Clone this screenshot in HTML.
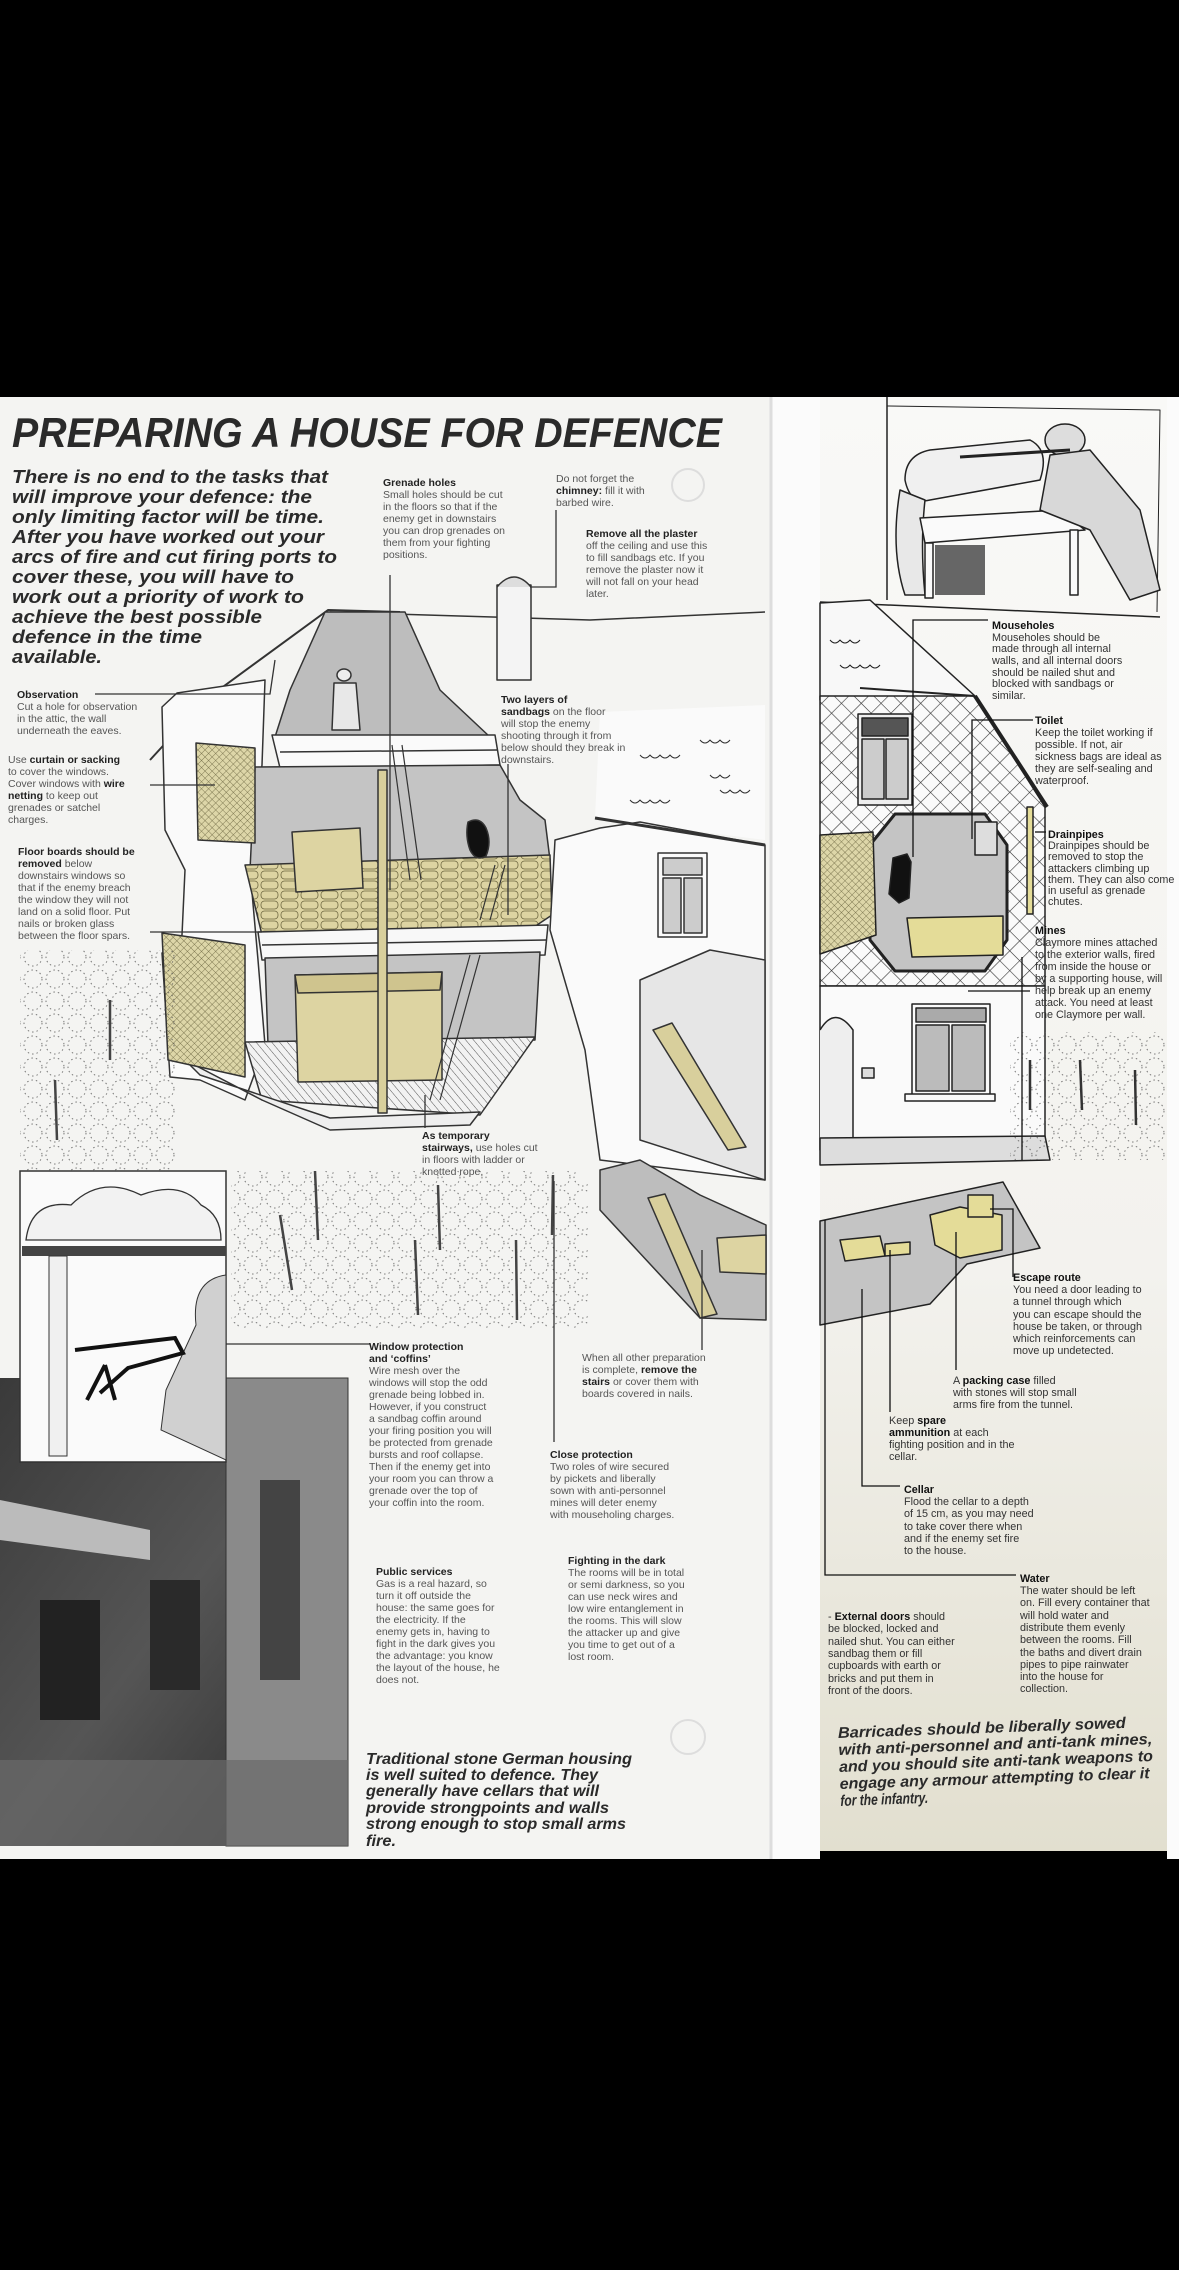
<!DOCTYPE html>
<html><head><meta charset="utf-8">
<style>
html,body{margin:0;padding:0;background:#000;}
svg{display:block;}
.t{font-family:"Liberation Sans",sans-serif;font-size:10.5px;fill:#555;}
.b{font-weight:bold;fill:#222;}
.r{font-family:"Liberation Sans",sans-serif;font-size:10.8px;fill:#333;}
.rb{font-weight:bold;fill:#111;}
.i{font-family:"Liberation Sans",sans-serif;font-weight:bold;font-style:italic;fill:#2a2a2a;}
</style></head>
<body>
<svg width="1179" height="2270" viewBox="0 0 1179 2270" xmlns="http://www.w3.org/2000/svg">
<defs>
<linearGradient id="rg" x1="0" y1="0" x2="0" y2="1">
<stop offset="0" stop-color="#f9f9f7"/><stop offset="0.6" stop-color="#f3f2ee"/><stop offset="1" stop-color="#e2dfcf"/></linearGradient>
<linearGradient id="ph" x1="0" y1="0" x2="1" y2="1">
<stop offset="0" stop-color="#3a3a3a"/><stop offset="0.5" stop-color="#555"/><stop offset="1" stop-color="#2a2a2a"/></linearGradient>
<pattern id="hatch" width="14" height="14" patternUnits="userSpaceOnUse" patternTransform="rotate(45)">
<rect width="14" height="14" fill="#fafafa"/><line x1="0" y1="0" x2="0" y2="14" stroke="#333" stroke-width="1.2"/><line x1="0" y1="0" x2="14" y2="0" stroke="#333" stroke-width="1.2"/></pattern>
<pattern id="mesh" width="5" height="5" patternUnits="userSpaceOnUse" patternTransform="rotate(45)">
<rect width="5" height="5" fill="#ddd6a8"/><line x1="0" y1="0" x2="0" y2="5" stroke="#6b6540" stroke-width="0.8"/><line x1="0" y1="0" x2="5" y2="0" stroke="#6b6540" stroke-width="0.8"/></pattern>
<pattern id="stripe" width="6" height="6" patternUnits="userSpaceOnUse" patternTransform="rotate(-40)">
<rect width="6" height="6" fill="#f2f2f2"/><line x1="0" y1="0" x2="0" y2="6" stroke="#555" stroke-width="1"/></pattern>
<pattern id="bag" width="20" height="10" patternUnits="userSpaceOnUse">
<rect width="20" height="10" fill="#ddd4a2"/><rect x="1" y="1" width="17" height="8" rx="3.5" fill="none" stroke="#6e6740" stroke-width="0.8"/></pattern>
<pattern id="wire" width="22" height="22" patternUnits="userSpaceOnUse">
<circle cx="11" cy="11" r="9" fill="none" stroke="#555" stroke-width="1" stroke-dasharray="1.5 3"/></pattern>
</defs>

<rect width="1179" height="2270" fill="#000"/>
<rect x="0" y="397" width="771" height="1462" fill="#f4f4f2"/>
<rect x="771" y="397" width="49" height="1462" fill="#fbfbfb"/>
<line x1="771" y1="397" x2="771" y2="1859" stroke="#ddd" stroke-width="3"/>
<rect x="820" y="397" width="347" height="1454" fill="url(#rg)"/>
<rect x="1167" y="397" width="12" height="1462" fill="#fbfbfb"/>

<!-- Title -->
<text x="12" y="447" class="i" font-size="42" textLength="710" lengthAdjust="spacingAndGlyphs">PREPARING A HOUSE FOR DEFENCE</text>
<g class="i" font-size="18">
<text x="12" y="483" textLength="316" lengthAdjust="spacingAndGlyphs">There is no end to the tasks that</text>
<text x="12" y="503" textLength="300" lengthAdjust="spacingAndGlyphs">will improve your defence: the</text>
<text x="12" y="523" textLength="312" lengthAdjust="spacingAndGlyphs">only limiting factor will be time.</text>
<text x="12" y="543" textLength="312" lengthAdjust="spacingAndGlyphs">After you have worked out your</text>
<text x="12" y="563" textLength="325" lengthAdjust="spacingAndGlyphs">arcs of fire and cut firing ports to</text>
<text x="12" y="583" textLength="282" lengthAdjust="spacingAndGlyphs">cover these, you will have to</text>
<text x="12" y="603" textLength="292" lengthAdjust="spacingAndGlyphs">work out a priority of work to</text>
<text x="12" y="623" textLength="250" lengthAdjust="spacingAndGlyphs">achieve the best possible</text>
<text x="12" y="643" textLength="190" lengthAdjust="spacingAndGlyphs">defence in the time</text>
<text x="12" y="663" textLength="90" lengthAdjust="spacingAndGlyphs">available.</text>
</g>

<circle cx="688" cy="485" r="16" fill="none" stroke="#ddd" stroke-width="2"/>
<circle cx="688" cy="1737" r="17" fill="none" stroke="#ddd" stroke-width="2"/>

<!-- House drawing left -->
<g stroke="#333" stroke-width="1.5" stroke-linejoin="round">
<polyline points="150,760 205,700 328,610 400,612" fill="none" stroke-width="2"/>
<polyline points="330,612 590,620 765,612" fill="none"/>
<!-- outer left wall -->
<polygon points="162,707 177,693 265,680 262,765 250,870 258,960 265,1045 245,1100 200,1080 170,1077 162,953 182,935 185,870 165,830" fill="#fafafa"/>
<!-- attic gray -->
<polygon points="325,612 405,612 440,690 490,737 275,737 290,690" fill="#bdbdbd"/>
<polygon points="272,735 495,735 500,765 280,768" fill="#fafafa"/>
<line x1="280" y1="752" x2="497" y2="750"/>
<!-- upper room -->
<polygon points="255,767 500,765 520,800 545,820 550,860 250,870" fill="#c4c4c4"/>
<polygon points="245,865 550,855 552,915 525,933 262,935" fill="url(#bag)"/>
<polygon points="258,932 548,925 545,955 262,960" fill="#f8f8f8"/>
<line x1="262" y1="945" x2="546" y2="940"/>
<!-- lower room -->
<polygon points="265,958 540,952 535,1040 268,1045" fill="#c4c4c4"/>
<polygon points="245,1042 535,1037 480,1115 262,1100" fill="url(#stripe)"/>
<polygon points="185,1060 262,1100 330,1130 470,1125 480,1112 330,1118 200,1075" fill="#eee"/>
<polygon points="292,832 360,828 363,888 296,892" fill="#ddd4a2"/>
<polygon points="295,975 442,972 442,1080 298,1082" fill="#ddd4a2"/>
<polygon points="295,975 442,972 440,990 298,993" fill="#cfc48e"/>
<polygon points="196,743 255,748 255,843 198,840" fill="url(#mesh)"/>
<polygon points="162,933 245,945 245,1077 168,1060" fill="url(#mesh)"/>
<rect x="378" y="770" width="9" height="343" fill="#d8cf9c"/>
<g fill="none" stroke-width="1.2">
<line x1="392" y1="745" x2="410" y2="880"/><line x1="402" y1="745" x2="421" y2="880"/>
<line x1="470" y1="955" x2="430" y2="1100"/><line x1="480" y1="955" x2="440" y2="1100"/>
<line x1="480" y1="920" x2="495" y2="865"/><line x1="490" y1="920" x2="505" y2="865"/>
</g>
<ellipse cx="344" cy="675" rx="7" ry="6" fill="#eee"/>
<polygon points="334,683 356,683 360,730 332,730" fill="#e8e8e8"/>
<path d="M468,822 q12,-6 18,6 q6,14 0,28 q-10,6 -16,-6 q-5,-14 -2,-28z" fill="#111"/>
<!-- right house -->
<polygon points="600,712 765,705 765,840 595,818" fill="#fafafa" stroke="none"/>
<polygon points="555,840 600,828 640,822 765,845 765,1180 600,1160 585,1050 550,930" fill="#fafafa"/>
<line x1="595" y1="818" x2="765" y2="845" stroke-width="3"/>
<rect x="658" y="853" width="49" height="84" fill="#fafafa"/>
<rect x="663" y="858" width="39" height="17" fill="#ccc"/>
<rect x="663" y="878" width="18" height="55" fill="#ccc"/>
<rect x="684" y="878" width="18" height="55" fill="#ccc"/>
<polygon points="640,980 710,950 765,960 765,1180 640,1140" fill="#e6e6e6"/>
<polygon points="653,1030 672,1023 746,1147 728,1150" fill="#d8cf9c"/>
<g fill="none" stroke-width="1">
<path d="M640,755 q5,6 10,0 q5,6 10,0 q5,6 10,0 q5,6 10,0"/>
<path d="M700,740 q5,6 10,0 q5,6 10,0 q5,6 10,0"/>
<path d="M630,800 q5,6 10,0 q5,6 10,0 q5,6 10,0 q5,6 10,0"/>
<path d="M720,790 q5,6 10,0 q5,6 10,0 q5,6 10,0"/>
<path d="M710,775 q5,6 10,0 q5,6 10,0"/>
</g>
<rect x="497" y="585" width="34" height="95" fill="#f4f4f4"/>
<path d="M497,587 q17,-20 34,0" fill="#ddd"/>
<!-- cellar stairs -->
<polygon points="600,1170 640,1160 700,1195 766,1225 766,1320 700,1318 600,1210" fill="#bdbdbd"/>
<polygon points="648,1198 665,1194 717,1314 700,1318" fill="#d8cf9c"/>
<polygon points="717,1238 766,1235 766,1274 720,1272" fill="#ddd4a2"/>
</g>
<rect x="20" y="950" width="157" height="230" fill="url(#wire)" opacity="0.8"/>
<rect x="231" y="1171" width="358" height="157" fill="url(#wire)" opacity="0.8"/>
<g stroke="#444" stroke-width="2.5">
<line x1="315" y1="1171" x2="318" y2="1240"/><line x1="280" y1="1215" x2="292" y2="1290"/>
<line x1="438" y1="1185" x2="440" y2="1250"/><line x1="415" y1="1240" x2="418" y2="1315"/>
<line x1="553" y1="1175" x2="552" y2="1235"/><line x1="516" y1="1240" x2="517" y2="1320"/>
<line x1="55" y1="1080" x2="57" y2="1140"/><line x1="110" y1="1000" x2="110" y2="1060"/>
</g>

<!-- leader lines left -->
<g stroke="#333" stroke-width="1.3" fill="none">
<polyline points="95,694 270,694 275,660"/>
<line x1="150" y1="785" x2="215" y2="785"/>
<line x1="150" y1="932" x2="262" y2="932"/>
<line x1="390" y1="575" x2="390" y2="890"/>
<polyline points="556,510 556,587 530,587"/>
<line x1="508" y1="764" x2="508" y2="915"/>
<line x1="425" y1="1128" x2="425" y2="1095"/>
<line x1="226" y1="1344" x2="370" y2="1344"/>
<line x1="554" y1="1442" x2="554" y2="1181"/>
<line x1="702" y1="1350" x2="702" y2="1250"/>
</g>

<g class="t">
<text x="383" y="486" class="b">Grenade holes</text>
<text x="383" y="498">Small holes should be cut</text>
<text x="383" y="510">in the floors so that if the</text>
<text x="383" y="522">enemy get in downstairs</text>
<text x="383" y="534">you can drop grenades on</text>
<text x="383" y="546">them from your fighting</text>
<text x="383" y="558">positions.</text>

<text x="556" y="482">Do not forget the</text>
<text x="556" y="494"><tspan class="b">chimney:</tspan> fill it with</text>
<text x="556" y="506">barbed wire.</text>

<text x="586" y="537" class="b">Remove all the plaster</text>
<text x="586" y="549">off the ceiling and use this</text>
<text x="586" y="561">to fill sandbags etc. If you</text>
<text x="586" y="573">remove the plaster now it</text>
<text x="586" y="585">will not fall on your head</text>
<text x="586" y="597">later.</text>

<text x="17" y="698" class="b">Observation</text>
<text x="17" y="710">Cut a hole for observation</text>
<text x="17" y="722">in the attic, the wall</text>
<text x="17" y="734">underneath the eaves.</text>

<text x="8" y="763">Use <tspan class="b">curtain or sacking</tspan></text>
<text x="8" y="775">to cover the windows.</text>
<text x="8" y="787">Cover windows with <tspan class="b">wire</tspan></text>
<text x="8" y="799"><tspan class="b">netting</tspan> to keep out</text>
<text x="8" y="811">grenades or satchel</text>
<text x="8" y="823">charges.</text>

<text x="18" y="855" class="b">Floor boards should be</text>
<text x="18" y="867"><tspan class="b">removed</tspan> below</text>
<text x="18" y="879">downstairs windows so</text>
<text x="18" y="891">that if the enemy breach</text>
<text x="18" y="903">the window they will not</text>
<text x="18" y="915">land on a solid floor. Put</text>
<text x="18" y="927">nails or broken glass</text>
<text x="18" y="939">between the floor spars.</text>

<text x="501" y="703" class="b">Two layers of</text>
<text x="501" y="715"><tspan class="b">sandbags</tspan> on the floor</text>
<text x="501" y="727">will stop the enemy</text>
<text x="501" y="739">shooting through it from</text>
<text x="501" y="751">below should they break in</text>
<text x="501" y="763">downstairs.</text>

<text x="422" y="1139" class="b">As temporary</text>
<text x="422" y="1151"><tspan class="b">stairways,</tspan> use holes cut</text>
<text x="422" y="1163">in floors with ladder or</text>
<text x="422" y="1175">knotted rope.</text>

<text x="369" y="1350" class="b">Window protection</text>
<text x="369" y="1362" class="b">and ‘coffins’</text>
<text x="369" y="1374">Wire mesh over the</text>
<text x="369" y="1386">windows will stop the odd</text>
<text x="369" y="1398">grenade being lobbed in.</text>
<text x="369" y="1410">However, if you construct</text>
<text x="369" y="1422">a sandbag coffin around</text>
<text x="369" y="1434">your firing position you will</text>
<text x="369" y="1446">be protected from grenade</text>
<text x="369" y="1458">bursts and roof collapse.</text>
<text x="369" y="1470">Then if the enemy get into</text>
<text x="369" y="1482">your room you can throw a</text>
<text x="369" y="1494">grenade over the top of</text>
<text x="369" y="1506">your coffin into the room.</text>

<text x="582" y="1361">When all other preparation</text>
<text x="582" y="1373">is complete, <tspan class="b">remove the</tspan></text>
<text x="582" y="1385"><tspan class="b">stairs</tspan> or cover them with</text>
<text x="582" y="1397">boards covered in nails.</text>

<text x="550" y="1458" class="b">Close protection</text>
<text x="550" y="1470">Two roles of wire secured</text>
<text x="550" y="1482">by pickets and liberally</text>
<text x="550" y="1494">sown with anti-personnel</text>
<text x="550" y="1506">mines will deter enemy</text>
<text x="550" y="1518">with mouseholing charges.</text>

<text x="376" y="1575" class="b">Public services</text>
<text x="376" y="1587">Gas is a real hazard, so</text>
<text x="376" y="1599">turn it off outside the</text>
<text x="376" y="1611">house: the same goes for</text>
<text x="376" y="1623">the electricity. If the</text>
<text x="376" y="1635">enemy gets in, having to</text>
<text x="376" y="1647">fight in the dark gives you</text>
<text x="376" y="1659">the advantage: you know</text>
<text x="376" y="1671">the layout of the house, he</text>
<text x="376" y="1683">does not.</text>

<text x="568" y="1564" class="b">Fighting in the dark</text>
<text x="568" y="1576">The rooms will be in total</text>
<text x="568" y="1588">or semi darkness, so you</text>
<text x="568" y="1600">can use neck wires and</text>
<text x="568" y="1612">low wire entanglement in</text>
<text x="568" y="1624">the rooms. This will slow</text>
<text x="568" y="1636">the attacker up and give</text>
<text x="568" y="1648">you time to get out of a</text>
<text x="568" y="1660">lost room.</text>
</g>

<!-- photo -->
<rect x="0" y="1378" width="348" height="468" fill="url(#ph)"/>
<rect x="226" y="1378" width="122" height="468" fill="#8a8a8a" stroke="#333"/>
<polygon points="0,1500 150,1530 150,1560 0,1540" fill="#bbb"/>
<rect x="40" y="1600" width="60" height="120" fill="#222"/>
<rect x="150" y="1580" width="50" height="110" fill="#2a2a2a"/>
<rect x="260" y="1480" width="40" height="200" fill="#444"/>
<rect x="0" y="1760" width="348" height="86" fill="#6a6a6a" opacity="0.7"/>
<!-- inset box -->
<rect x="20" y="1171" width="206" height="291" fill="#fafafa" stroke="#333" stroke-width="1.5"/>
<path d="M26,1240 q5,-40 45,-35 q30,-30 70,-10 q40,-15 60,10 q20,10 20,35z" fill="#f2f2f2" stroke="#333" stroke-width="1.3"/>
<rect x="22" y="1246" width="204" height="10" fill="#444"/>
<rect x="49" y="1256" width="18" height="200" fill="#f0f0f0" stroke="#333"/>
<path d="M226,1275 q-35,5 -30,50 l-30,65 l-5,40 l65,30z" fill="#d0d0d0" stroke="#333"/>
<path d="M75,1350 l100,-12 l8,15 l-55,15 l-28,25 M105,1365 l-18,35 M105,1365 l10,35" fill="none" stroke="#111" stroke-width="4"/>

<g class="i" font-size="16">
<text x="366" y="1764" textLength="266" lengthAdjust="spacingAndGlyphs">Traditional stone German housing</text>
<text x="366" y="1780" textLength="232" lengthAdjust="spacingAndGlyphs">is well suited to defence. They</text>
<text x="366" y="1796" textLength="233" lengthAdjust="spacingAndGlyphs">generally have cellars that will</text>
<text x="366" y="1813" textLength="243" lengthAdjust="spacingAndGlyphs">provide strongpoints and walls</text>
<text x="366" y="1829" textLength="260" lengthAdjust="spacingAndGlyphs">strong enough to stop small arms</text>
<text x="366" y="1846" textLength="30" lengthAdjust="spacingAndGlyphs">fire.</text>
</g>

<!-- RIGHT PAGE -->
<g stroke="#222" stroke-width="1.5" stroke-linejoin="round">
<polyline points="887,397 887,600" fill="none"/>
<polyline points="887,406 1160,410 1157,612" fill="none" stroke-width="1"/>
<line x1="820" y1="602" x2="1160" y2="617"/>
<path d="M905,480 q0,-25 25,-30 l100,-10 q20,10 10,40 l-110,20 q-20,5 -25,-20z" fill="#f0f0f0"/>
<path d="M900,490 q-10,60 5,105 l20,0 q-5,-50 0,-95z" fill="#e8e8e8"/>
<polygon points="920,518 1060,510 1085,530 925,543" fill="#fafafa"/>
<rect x="925" y="543" width="8" height="55" fill="#fafafa"/>
<rect x="1070" y="530" width="8" height="65" fill="#fafafa"/>
<rect x="935" y="545" width="50" height="50" fill="#666" stroke="none"/>
<ellipse cx="1065" cy="440" rx="20" ry="16" fill="#ddd"/>
<path d="M1050,455 l40,-5 l50,60 l20,80 l-30,10 l-40,-70 l-50,-20z" fill="#d8d8d8"/>
<line x1="960" y1="457" x2="1070" y2="450" stroke-width="3"/>
<!-- roof tiles + gable -->
<polygon points="820,603 870,600 975,696 820,700" fill="#f8f8f8"/>
<polygon points="820,696 975,696 1045,807 1045,986 820,986" fill="url(#hatch)"/>
<g fill="none" stroke-width="1"><path d="M830,640 q5,6 10,0 q5,6 10,0 q5,6 10,0"/><path d="M840,665 q5,6 10,0 q5,6 10,0 q5,6 10,0 q5,6 10,0"/></g>
<line x1="860" y1="688" x2="975" y2="696" stroke-width="2"/>
<line x1="975" y1="696" x2="1047" y2="807" stroke-width="4"/>
<rect x="858" y="714" width="54" height="91" fill="#eee"/>
<rect x="862" y="718" width="46" height="18" fill="#555"/>
<rect x="862" y="739" width="22" height="60" fill="#ccc"/>
<rect x="886" y="739" width="22" height="60" fill="#ccc"/>
<polygon points="895,814 985,814 1007,845 1007,940 985,971 895,971 870,940 870,845" fill="#c4c4c4" stroke-width="3"/>
<path d="M893,858 l14,-4 l4,8 l-2,36 l-10,5 l-10,-9 z" fill="#111"/>
<rect x="975" y="822" width="22" height="33" fill="#ddd"/>
<polygon points="907,918 1003,916 1003,955 912,957" fill="#e4dc98"/>
<polygon points="820,835 873,832 876,935 820,954" fill="url(#mesh)"/>
<rect x="1027" y="807" width="6" height="107" fill="#e4dc98"/>
<!-- lower wall -->
<polygon points="820,986 1045,986 1045,1140 820,1150" fill="#fafafa"/>
<rect x="912" y="1004" width="78" height="92" fill="#fafafa"/>
<rect x="916" y="1008" width="70" height="14" fill="#aaa"/>
<rect x="916" y="1025" width="33" height="66" fill="#bbb"/>
<rect x="952" y="1025" width="33" height="66" fill="#bbb"/>
<rect x="905" y="1094" width="90" height="7" fill="#fafafa"/>
<path d="M820,1030 q15,-25 33,0 l0,120 l-33,0" fill="#eee"/>
<rect x="862" y="1068" width="12" height="10" fill="#ddd"/>
<polygon points="820,1138 1045,1136 1050,1160 820,1165" fill="#ddd"/>
<!-- cellar -->
<polygon points="820,1221 1003,1182 1040,1248 967,1264 930,1304 820,1325" fill="#c4c4c4"/>
<polygon points="930,1215 960,1207 1002,1215 1002,1250 960,1258 935,1245" fill="#e4dc98"/>
<rect x="968" y="1195" width="25" height="22" fill="#e4dc98"/>
<polygon points="840,1240 880,1236 885,1256 845,1261" fill="#e4dc98"/>
<polygon points="885,1244 910,1242 910,1254 885,1256" fill="#e4dc98"/>
</g>
<rect x="1010" y="1032" width="155" height="128" fill="url(#wire)" opacity="0.8"/>
<g stroke="#333" stroke-width="2.5"><line x1="1030" y1="1060" x2="1030" y2="1110"/><line x1="1080" y1="1060" x2="1082" y2="1110"/><line x1="1135" y1="1070" x2="1136" y2="1125"/></g>

<g stroke="#111" stroke-width="1.3" fill="none">
<polyline points="988,620 913,620 913,857"/>
<polyline points="1033,720 972,720 972,839"/>
<line x1="1035" y1="832" x2="1046" y2="832"/>
<line x1="968" y1="991" x2="1030" y2="991"/>
<line x1="1022" y1="957" x2="1022" y2="1160"/>
<polyline points="1013,1277 1013,1209 990,1209"/>
<line x1="956" y1="1370" x2="956" y2="1232"/>
<line x1="890" y1="1412" x2="890" y2="1250"/>
<polyline points="900,1486 862,1486 862,1289"/>
<polyline points="1016,1575 825,1575 825,1220"/>
</g>

<g class="r">
<text x="992" y="629" class="rb">Mouseholes</text>
<text x="992" y="641">Mouseholes should be</text>
<text x="992" y="652">made through all internal</text>
<text x="992" y="664">walls, and all internal doors</text>
<text x="992" y="676">should be nailed shut and</text>
<text x="992" y="687">blocked with sandbags or</text>
<text x="992" y="699">similar.</text>

<text x="1035" y="724" class="rb">Toilet</text>
<text x="1035" y="736">Keep the toilet working if</text>
<text x="1035" y="748">possible. If not, air</text>
<text x="1035" y="760">sickness bags are ideal as</text>
<text x="1035" y="772">they are self-sealing and</text>
<text x="1035" y="784">waterproof.</text>

<text x="1048" y="838" class="rb">Drainpipes</text>
<text x="1048" y="849">Drainpipes should be</text>
<text x="1048" y="860">removed to stop the</text>
<text x="1048" y="872">attackers climbing up</text>
<text x="1048" y="883">them. They can also come</text>
<text x="1048" y="894">in useful as grenade</text>
<text x="1048" y="905">chutes.</text>

<text x="1035" y="934" class="rb">Mines</text>
<text x="1035" y="946">Claymore mines attached</text>
<text x="1035" y="958">to the exterior walls, fired</text>
<text x="1035" y="970">from inside the house or</text>
<text x="1035" y="982">by a supporting house, will</text>
<text x="1035" y="994">help break up an enemy</text>
<text x="1035" y="1006">attack. You need at least</text>
<text x="1035" y="1018">one Claymore per wall.</text>

<text x="1013" y="1281" class="rb">Escape route</text>
<text x="1013" y="1293">You need a door leading to</text>
<text x="1013" y="1305">a tunnel through which</text>
<text x="1013" y="1318">you can escape should the</text>
<text x="1013" y="1330">house be taken, or through</text>
<text x="1013" y="1342">which reinforcements can</text>
<text x="1013" y="1354">move up undetected.</text>

<text x="953" y="1384">A <tspan class="rb">packing case</tspan> filled</text>
<text x="953" y="1396">with stones will stop small</text>
<text x="953" y="1408">arms fire from the tunnel.</text>

<text x="889" y="1424">Keep <tspan class="rb">spare</tspan></text>
<text x="889" y="1436" class="rb">ammunition <tspan font-weight="normal" fill="#333">at each</tspan></text>
<text x="889" y="1448">fighting position and in the</text>
<text x="889" y="1460">cellar.</text>

<text x="904" y="1493" class="rb">Cellar</text>
<text x="904" y="1505">Flood the cellar to a depth</text>
<text x="904" y="1517">of 15 cm, as you may need</text>
<text x="904" y="1530">to take cover there when</text>
<text x="904" y="1542">and if the enemy set fire</text>
<text x="904" y="1554">to the house.</text>

<text x="1020" y="1582" class="rb">Water</text>
<text x="1020" y="1594">The water should be left</text>
<text x="1020" y="1606">on. Fill every container that</text>
<text x="1020" y="1619">will hold water and</text>
<text x="1020" y="1631">distribute them evenly</text>
<text x="1020" y="1643">between the rooms. Fill</text>
<text x="1020" y="1656">the baths and divert drain</text>
<text x="1020" y="1668">pipes to pipe rainwater</text>
<text x="1020" y="1680">into the house for</text>
<text x="1020" y="1692">collection.</text>

<text x="828" y="1620">- <tspan class="rb">External doors</tspan> should</text>
<text x="828" y="1632">be blocked, locked and</text>
<text x="828" y="1645">nailed shut. You can either</text>
<text x="828" y="1657">sandbag them or fill</text>
<text x="828" y="1669">cupboards with earth or</text>
<text x="828" y="1682">bricks and put them in</text>
<text x="828" y="1694">front of the doors.</text>
</g>

<g class="i" font-size="15.5" font-style="normal" transform="rotate(-2 838 1736)">
<text x="838" y="1738" textLength="288" lengthAdjust="spacingAndGlyphs">Barricades should be liberally sowed</text>
<text x="838" y="1755" textLength="314" lengthAdjust="spacingAndGlyphs">with anti-personnel and anti-tank mines,</text>
<text x="838" y="1772" textLength="314" lengthAdjust="spacingAndGlyphs">and you should site anti-tank weapons to</text>
<text x="838" y="1789" textLength="310" lengthAdjust="spacingAndGlyphs">engage any armour attempting to clear it</text>
<text x="838" y="1806" textLength="88" lengthAdjust="spacingAndGlyphs">for the infantry.</text>
</g>
</svg>
</body></html>
